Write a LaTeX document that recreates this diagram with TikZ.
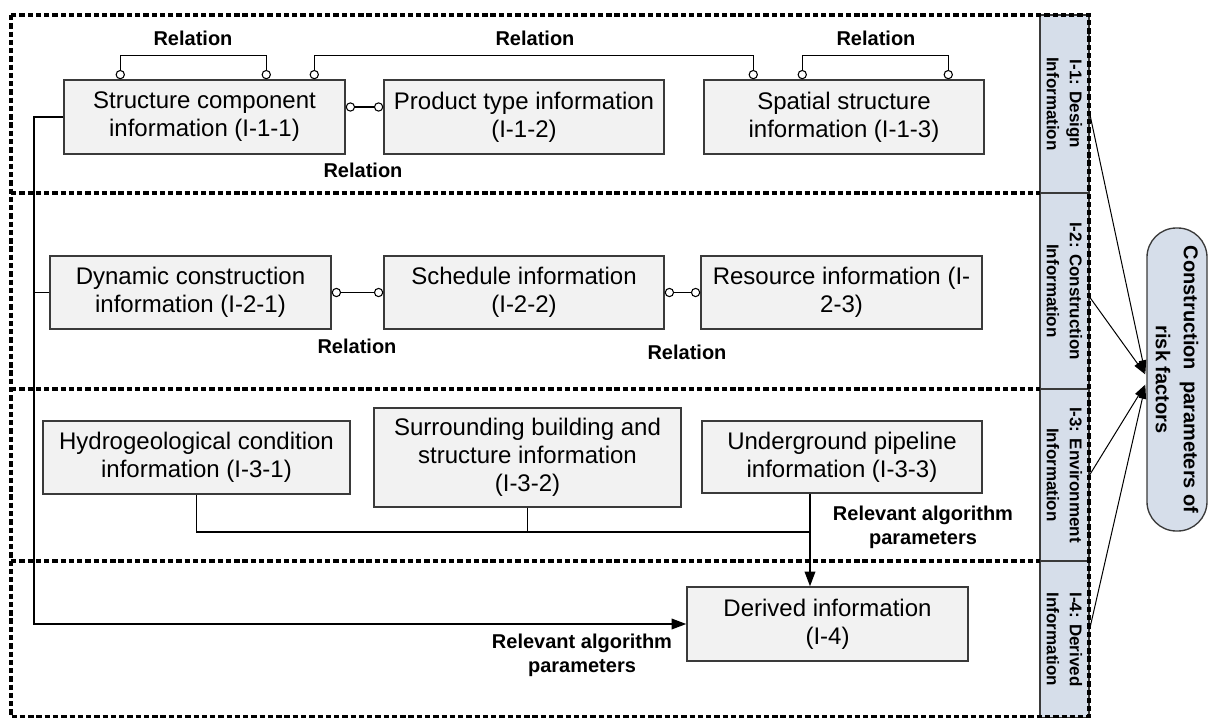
\documentclass[tikz,border=0pt]{standalone}
\usepackage{fontspec}
\setmainfont{Liberation Sans}
\usetikzlibrary{arrows.meta,calc}
\newcommand\upx{0.75pt}
\definecolor{boxfill}{HTML}{F2F2F2}
\definecolor{sidefill}{HTML}{D6DEEA}
\definecolor{edgegray}{HTML}{3A3A3A}

\begin{document}
\begin{tikzpicture}[x=0.75pt,y=-0.75pt,
  infobox/.style={draw=edgegray, line width=1.1pt, fill=boxfill, align=center,
    inner sep=0pt, font=\fontsize{18}{21}\selectfont},
  sidebox/.style={draw=edgegray, line width=0.9pt, fill=sidefill, align=center,
    inner sep=0pt, rotate=-90, minimum height=49*\upx,
    font=\bfseries\fontsize{12.75}{17.25}\selectfont},
  riskbox/.style={draw=edgegray, line width=1pt, fill=sidefill, align=center,
    inner sep=0pt, rotate=-90, minimum width=303*\upx, minimum height=60*\upx,
    rounded corners=22pt, font=\bfseries\fontsize{15}{21}\selectfont},
  lbl/.style={align=center, inner sep=0pt, font=\bfseries\fontsize{15}{18}\selectfont},
  grpframe/.style={draw=black, line width=3pt, dash pattern=on 4pt off 2.2pt},
  rel/.style={draw=black, line width=0.9pt,
    arrows={Circle[length=7pt,fill=white,line width=0.8pt]-Circle[length=7pt,fill=white,line width=0.8pt]}},
  bus/.style={draw=black, line width=1pt},
  flow/.style={draw=black, line width=1.1pt, arrows={-Triangle[length=11pt,width=8pt]}},
  feed/.style={draw=black, line width=0.75pt, arrows={-Triangle[length=10pt,width=5.5pt]}}
]
\useasboundingbox (0,0) rectangle (1208,718);

% ---- side strip with the four information groups
\node[sidebox, minimum width=178*\upx] (S1) at (1064.5,104) {I-1: Design\\Information};
\node[sidebox, minimum width=196*\upx] (S2) at (1064.5,291) {I-2: Construction\\Information};
\node[sidebox, minimum width=172*\upx] (S3) at (1064.5,475) {I-3: Environment\\Information};
\node[sidebox, minimum width=157*\upx] (S4) at (1064.5,639.5) {I-4: Derived\\Information};

% ---- dashed group frames
\draw[grpframe] (11,15) rectangle (1089,717);
\draw[grpframe] (11,193) -- (1040,193);
\draw[grpframe] (11,389) -- (1040,389);
\draw[grpframe] (11,561) -- (1040,561);

% ---- I-1 design information
\node[infobox, minimum width=281*\upx, minimum height=74*\upx] (B1) at (204.5,117)
  {Structure component\\information (I-1-1)};
\node[infobox, minimum width=280*\upx, minimum height=74*\upx] (B2) at (524,117)
  {Product type information\\(I-1-2)};
\node[infobox, minimum width=280*\upx, minimum height=74*\upx] (B3) at (844,117)
  {Spatial structure\\information (I-1-3)};

% ---- I-2 construction information
\node[infobox, minimum width=281*\upx, minimum height=73*\upx] (D1) at (190.5,292.5)
  {Dynamic construction\\information (I-2-1)};
\node[infobox, minimum width=280*\upx, minimum height=73*\upx] (D2) at (524,292.5)
  {Schedule information\\(I-2-2)};
\node[infobox, minimum width=281*\upx, minimum height=73*\upx] (D3) at (841.5,292.5)
  {Resource information (I-\\2-3)};

% ---- I-3 environment information
\node[infobox, minimum width=307*\upx, minimum height=73*\upx] (E1) at (196.5,457.5)
  {Hydrogeological condition\\information (I-3-1)};
\node[infobox, minimum width=307*\upx, minimum height=99*\upx] (E2) at (527.5,457.5)
  {Surrounding building and\\structure information\\(I-3-2)};
\node[infobox, minimum width=280*\upx, minimum height=72*\upx] (E3) at (842,457)
  {Underground pipeline\\information (I-3-3)};

% ---- I-4 derived information
\node[infobox, minimum width=281*\upx, minimum height=74*\upx] (Derv) at (827.5,624)
  {Derived information\\(I-4)};

% ---- result
\node[riskbox] (Risk) at (1177,379.5) {Construction\ \ parameters of\\risk factors};

% ---- relations between design items
\draw[rel] ($(B1.north west)+(57,0)$) -- ++(0,-24) -| ($(B1.north west)+(203,0)$);
\draw[rel] ($(B1.north west)+(251,0)$) -- ++(0,-24) -| ($(B3.north west)+(50,0)$);
\draw[rel] ($(B3.north west)+(99,0)$) -- ++(0,-24) -| ($(B3.north west)+(245,0)$);
\draw[rel] ($(B1.east)+(0,-10)$) -- ($(B2.west)+(0,-10)$);
\node[lbl] (L1) at (193,38) {Relation};
\node[lbl] (L2) at (535,38) {Relation};
\node[lbl] (L3) at (876,38) {Relation};
\node[lbl] (L4) at (363,170) {Relation};

% ---- relations between construction items
\draw[rel] (D1.east) -- (D2.west);
\draw[rel] (D2.east) -- (D3.west);
\node[lbl] (L5) at (357,346) {Relation};
\node[lbl] (L6) at (687,352) {Relation};

% ---- parameters feeding the derived information
\coordinate (busBot) at (34,624);
\coordinate (joinE) at (810,532);
\draw[flow] (B1.west) -| (busBot) -- (Derv.west);
\draw[bus] (D1.west) -- (D1.west -| busBot);
\draw[bus] (E1.south) |- (joinE);
\draw[bus] (E2.south) -- (E2.south |- joinE);
\draw[flow] (E3.south -| joinE) -- (Derv.north -| joinE);
\node[lbl] (P1) at (923,527) {Relevant algorithm\\parameters};
\node[lbl] (P2) at (582,655) {Relevant algorithm\\parameters};

% ---- groups feeding the risk factors
\draw[feed] ($(S1.north)+(0,9)$) -- ($(Risk.south)+(-1,-6)$);
\draw[feed] ($(S2.north)+(0,6)$) -- ($(Risk.south)+(-1,-5)$);
\draw[feed] (S3.north) -- ($(Risk.south)+(-1,5)$);
\draw[feed] ($(S4.north)+(0,-10)$) -- ($(Risk.south)+(-1,6)$);
\end{tikzpicture}
\end{document}
